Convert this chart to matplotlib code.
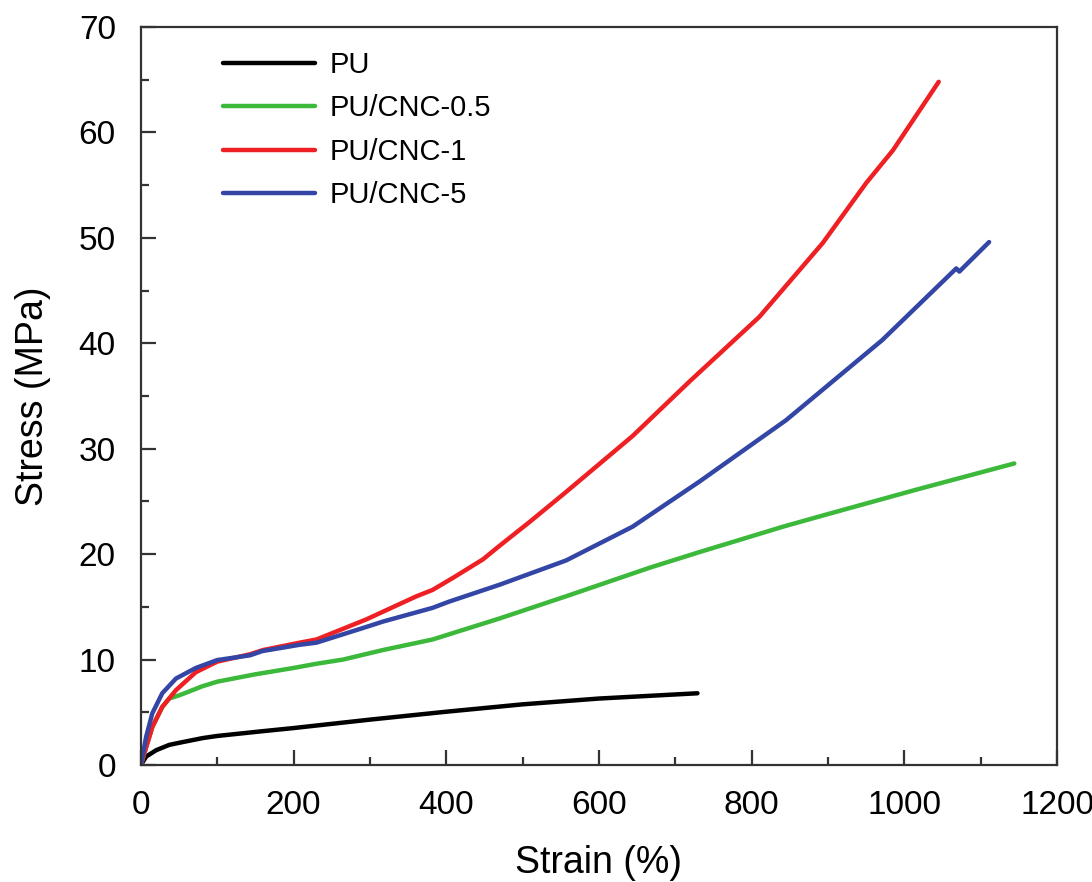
import matplotlib
matplotlib.use('Agg')
import matplotlib.pyplot as plt

plt.rcParams['font.family'] = ['Liberation Sans', 'DejaVu Sans']

# values (strain %, stress MPa)
pu_x = [0, 7, 20, 37, 50, 81, 100, 159, 200, 300, 400, 500, 600, 729]
pu_y = [0, 0.8, 1.4, 1.9, 2.1, 2.55, 2.75, 3.2, 3.5, 4.3, 5.05, 5.75, 6.3, 6.8]

cnc05_x = [0, 7, 15, 28, 37, 50, 59, 80, 100, 150, 200, 230, 265, 317, 382, 404,
           470, 557, 666, 732, 841, 900, 1015, 1144]
cnc05_y = [0, 1.7, 3.6, 5.5, 6.3, 6.6, 6.85, 7.45, 7.9, 8.6, 9.2, 9.6, 10.0, 10.9, 11.9, 12.4,
           13.9, 16.0, 18.7, 20.2, 22.6, 23.8, 26.1, 28.6]

cnc1_x = [0, 7, 15, 28, 46, 72, 100, 143, 160, 208, 230, 295, 361, 382, 410, 448,
          470, 510, 557, 644, 719, 810, 893, 950, 985, 1045]
cnc1_y = [0, 1.7, 3.6, 5.5, 7.1, 8.8, 9.8, 10.5, 10.9, 11.6, 11.9, 13.8, 16.0, 16.6, 17.8, 19.5,
          20.8, 23.1, 25.9, 31.2, 36.4, 42.5, 49.5, 55.2, 58.3, 64.8]

cnc5_x = [0, 7, 15, 28, 46, 72, 100, 143, 159, 208, 230, 300, 317, 382, 404,
          470, 557, 644, 732, 845, 971, 1068, 1072, 1111]
cnc5_y = [0, 2.7, 4.9, 6.8, 8.2, 9.2, 9.95, 10.4, 10.8, 11.4, 11.6, 13.2, 13.6, 14.9, 15.5,
          17.1, 19.4, 22.6, 26.9, 32.7, 40.3, 47.1, 46.8, 49.6]

fig = plt.figure(figsize=(10.92, 8.82), dpi=100)
ax = fig.add_axes([0.129, 0.1327, 0.839, 0.8367])

kw = dict(lw=3.2, solid_capstyle='round', solid_joinstyle='round')
ax.plot(pu_x, pu_y, color='black', label='PU', **kw)
ax.plot(cnc05_x, cnc05_y, color='#3cb93a', label='PU/CNC-0.5', **kw)
ax.plot(cnc1_x, cnc1_y, color='#ee2024', label='PU/CNC-1', **kw)
ax.plot(cnc5_x, cnc5_y, color='#3346a6', label='PU/CNC-5', **kw)

ax.set_xlim(0, 1200)
ax.set_ylim(0, 70)
ax.set_xticks(range(0, 1201, 200))
ax.set_xticks(range(100, 1200, 200), minor=True)
ax.set_yticks(range(0, 71, 10))
ax.set_yticks(range(5, 70, 10), minor=True)

for s in ax.spines.values():
    s.set_linewidth(1.6)
    s.set_color('#333333')
ax.tick_params(which='both', direction='in', top=False, right=False,
               width=1.6, color='#333333', labelsize=24, pad=18)
ax.tick_params(which='major', length=11)
ax.tick_params(which='minor', length=6)

ax.set_xlabel('Strain (%)', fontsize=27, labelpad=17)
ax.set_ylabel('Stress (MPa)', fontsize=27, labelpad=20)

ax.legend(loc='upper left', bbox_to_anchor=(0.061, 1.003), frameon=False,
          fontsize=21, handlelength=3.15, handletextpad=0.52, labelspacing=0.53)

fig.savefig('out.png', dpi=100)
